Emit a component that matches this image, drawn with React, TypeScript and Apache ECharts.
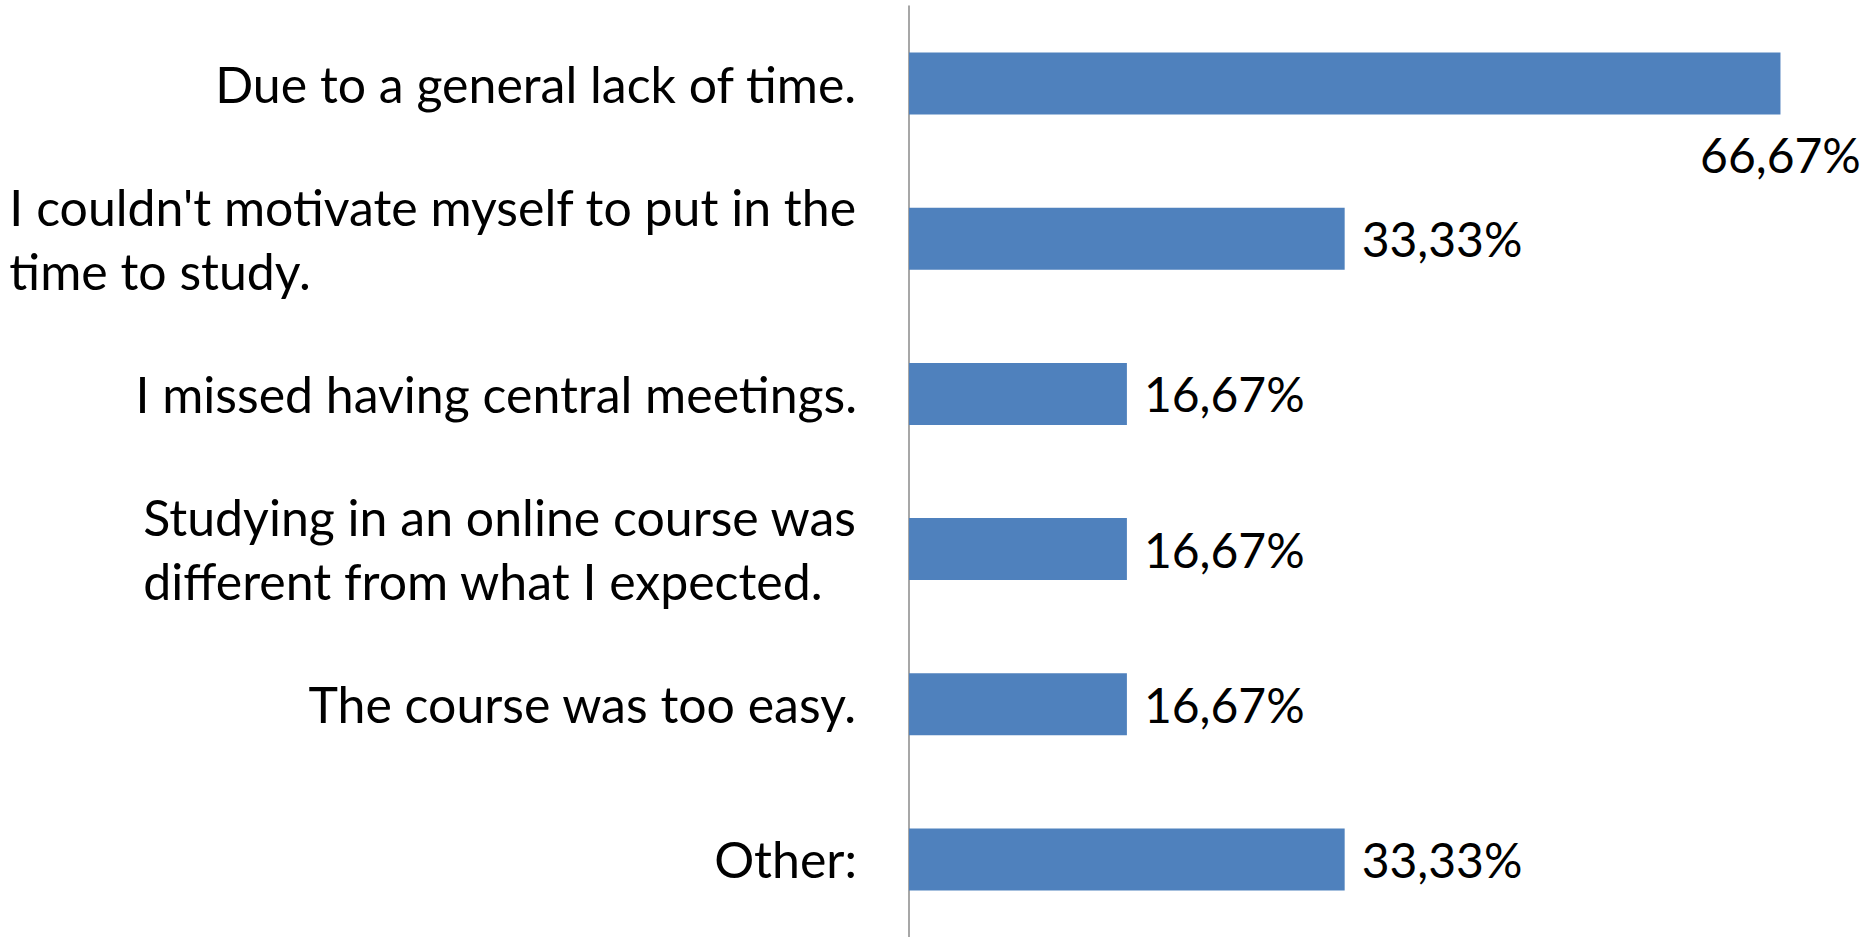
import React, { useEffect, useRef } from "react";
import * as echarts from "echarts";

const categories: string[] = [
  "Due to a general lack of time.",
  "I couldn't motivate myself to put in the\ntime to study.",
  "I missed having central meetings.",
  "Studying in an online course was\ndifferent from what I expected.",
  "The course was too easy.",
  "Other:",
];

const values: number[] = [66.67, 33.33, 16.67, 16.67, 16.67, 33.33];

const axisMin = 0;
const axisMax = 70;

const FONT = "Lato";
const CAT_FONT_SIZE = 50;
const VAL_FONT_SIZE = 48;

function fmt(v: number): string {
  return v.toFixed(2).replace(".", ",") + "%";
}

export default function App() {
  const ref = useRef<HTMLDivElement>(null);

  useEffect(() => {
    if (!ref.current) return;
    const chart = echarts.init(ref.current, undefined, { renderer: "svg" });
    const data = values.map((v, i) =>
      i === 0
        ? {
            value: v,
            label: {
              position: ["100%", "165%"],
              align: "center",
              verticalAlign: "middle",
            },
          }
        : { value: v }
    );
    chart.setOption({
      animation: false,
      backgroundColor: "#ffffff",
      grid: { left: 909, top: 6, width: 915, height: 934, containLabel: false },
      xAxis: {
        type: "value",
        min: axisMin,
        max: axisMax,
        show: false,
      },
      yAxis: {
        type: "category",
        inverse: true,
        data: categories,
        axisLine: { show: true, lineStyle: { color: "#8a8a8a", width: 1.5 } },
        axisTick: { show: false },
        splitLine: { show: false },
        axisLabel: {
          margin: 52,
          color: "#000000",
          fontFamily: FONT,
          fontSize: CAT_FONT_SIZE,
          lineHeight: 64,
          formatter: (val: string) =>
            val
              .split("\n")
              .map((l) => "{a|" + l + "}")
              .join("\n"),
          rich: {
            a: {
              align: "left",
              color: "#000000",
              fontFamily: FONT,
              fontSize: CAT_FONT_SIZE,
              lineHeight: 64,
            },
          },
        },
      },
      series: [
        {
          type: "bar",
          data,
          barWidth: "40%",
          itemStyle: { color: "#4F81BD" },
          label: {
            show: true,
            position: "right",
            distance: 17,
            color: "#000000",
            fontFamily: FONT,
            fontSize: VAL_FONT_SIZE,
            formatter: (p: any) => fmt(p.value),
          },
        },
      ],
    });
    return () => chart.dispose();
  }, []);

  return (
    <div
      ref={ref}
      style={{ position: "fixed", left: 0, top: 0, width: 1876, height: 937 }}
    />
  );
}
